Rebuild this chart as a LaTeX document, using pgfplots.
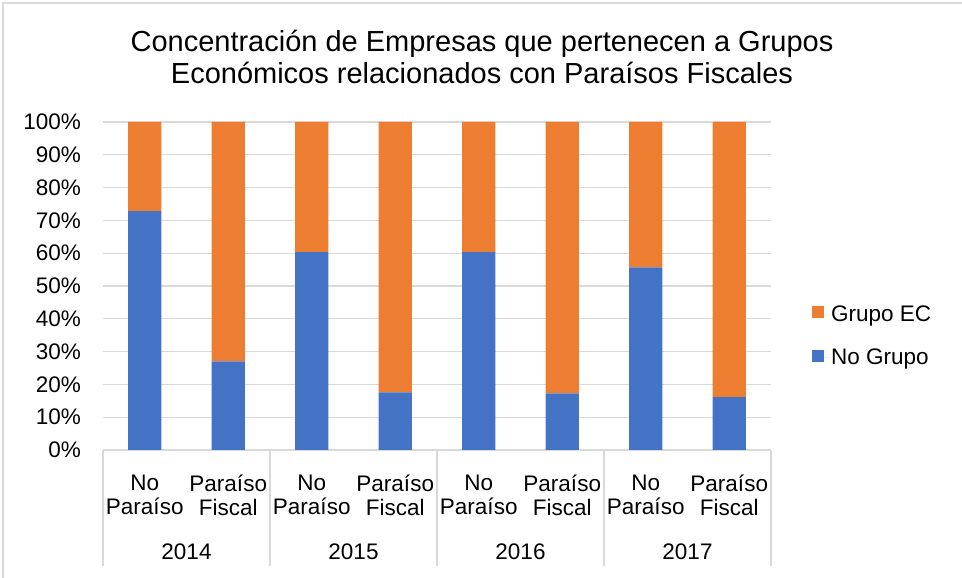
\documentclass[border=0pt]{standalone}
\usepackage{fontspec}
\setmainfont{Liberation Sans}
\usepackage{pgfplots}
\pgfplotsset{compat=1.18}
\definecolor{cblue}{HTML}{4472C4}
\definecolor{corange}{HTML}{ED7D31}
\definecolor{cgrid}{HTML}{D9D9D9}
\begin{document}
\begin{tikzpicture}[x=1pt,y=1pt]
\path[use as bounding box] (0,0) rectangle (962,578);
\draw[cgrid, line width=2pt] (3,0) -- (3,575) -- (962,575);
\node[anchor=base, font=\fontsize{29}{32}\selectfont] at (482,526) {Concentración de Empresas que pertenecen a Grupos};
\node[anchor=base, font=\fontsize{29}{32}\selectfont] at (482,494) {Económicos relacionados con Paraísos Fiscales};
\begin{axis}[
  at={(103pt,128pt)}, anchor=south west,
  scale only axis, width=668pt, height=328pt,
  ybar stacked, bar width=33.4pt,
  xmin=-0.5, xmax=7.5, ymin=0, ymax=100,
  axis line style={draw=none},
  major tick length=0pt,
  ymajorgrids, grid style={cgrid, line width=1.2pt},
  ytick={0,10,...,100},
  yticklabel={\pgfmathprintnumber{\tick}\%},
  yticklabel style={anchor=east, inner sep=0pt, xshift=-22pt},
  xtick={0,...,7},
  xticklabels={{No\\Paraíso},{Paraíso\\Fiscal},{No\\Paraíso},{Paraíso\\Fiscal},{No\\Paraíso},{Paraíso\\Fiscal},{No\\Paraíso},{Paraíso\\Fiscal}},
  xticklabel style={align=center, anchor=north, inner sep=0pt, yshift=-25pt},
  tick label style={font=\fontsize{22.5}{24}\selectfont},
  /pgf/number format/assume math mode=true,
  clip=false,
  reverse legend,
  legend cell align=left,
  legend style={draw=none, at={(1.0614,0.3476)}, anchor=west, font=\fontsize{22.5}{24}\selectfont, row sep=22pt, inner sep=0pt},
  legend image code/.code={\fill[#1] (0pt,-4pt) rectangle (12pt,8pt); \path (0pt,0pt) -- (17pt,0pt);},
]
\addplot[fill=cblue, draw=none] coordinates {(0,72.8) (1,27.0) (2,60.3) (3,17.6) (4,60.3) (5,17.3) (6,55.7) (7,16.1)};
\addplot[fill=corange, draw=none] coordinates {(0,27.2) (1,73.0) (2,39.7) (3,82.4) (4,39.7) (5,82.7) (6,44.3) (7,83.9)};
\legend{No Grupo, Grupo EC}
\pgfplotsinvokeforeach{-0.5,1.5,3.5,5.5,7.5}{
  \draw[cgrid, line width=1.2pt] (axis cs:#1,0) -- ++(0pt,-116pt);
}
\node[anchor=base, font=\fontsize{22.5}{24}\selectfont] at (axis cs:0.5,0) [yshift=-110pt] {2014};
\node[anchor=base, font=\fontsize{22.5}{24}\selectfont] at (axis cs:2.5,0) [yshift=-110pt] {2015};
\node[anchor=base, font=\fontsize{22.5}{24}\selectfont] at (axis cs:4.5,0) [yshift=-110pt] {2016};
\node[anchor=base, font=\fontsize{22.5}{24}\selectfont] at (axis cs:6.5,0) [yshift=-110pt] {2017};
\end{axis}
\end{tikzpicture}
\end{document}
